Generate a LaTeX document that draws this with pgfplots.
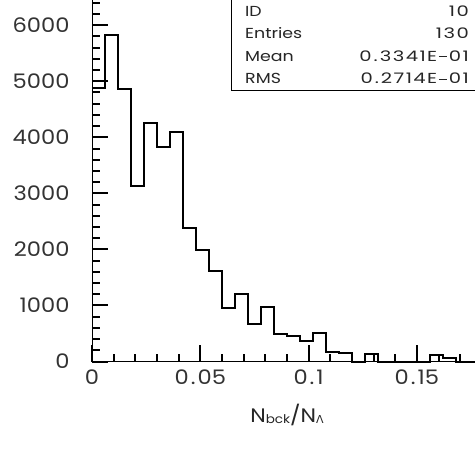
\documentclass[border=0pt]{standalone}
\usepackage{fontspec}
\setmainfont{Poppins}
\newfontfamily\tickfont{Poppins}[FakeStretch=1.13]
\newfontfamily\statfont{Poppins}[FakeStretch=1.2]
\newfontfamily\valfont{Poppins}[FakeStretch=1.35,LetterSpace=10]
\newfontfamily\grk{DejaVu Sans}
\newcommand\dt{\kern2pt.\kern2pt}
\newcommand\mn{\kern1.5pt\rule[4.2pt]{8.5pt}{0.85pt}\kern1.5pt}
\usepackage{pgfplots}
\pgfplotsset{compat=1.18}
\begin{document}
\begin{tikzpicture}[x=1pt,y=1pt]
\path[use as bounding box] (0,0) rectangle (475,451);
\begin{axis}[
  at={(92pt,89.5pt)}, anchor=south west,
  scale only axis, width=389.9pt, height=361.5pt,
  xmin=0, xmax=0.18, ymin=0, ymax=6450,
  axis x line=bottom, axis y line=left,
  axis line style={line width=2.2pt, -},
  every outer x axis line/.style={-}, every outer y axis line/.style={-},
  tick align=inside,
  major tick length=16pt, minor tick length=8pt,
  every tick/.style={line width=2pt, black},
  xtick={0,0.05,0.1,0.15}, xticklabels={0,0\dt05,0\dt1,0\dt15},
  minor xtick={0.01,0.02,0.03,0.04,0.06,0.07,0.08,0.09,0.11,0.12,0.13,0.14,0.16,0.17},
  ytick={0,1000,2000,3000,4000,5000,6000},
  yticklabels={0,1000,2000,3000,4000,5000,6000},
  minor ytick={200,400,600,800,1200,1400,1600,1800,2200,2400,2600,2800,3200,3400,3600,3800,4200,4400,4600,4800,5200,5400,5600,5800,6200,6400},
  /pgf/number format/assume math mode=true,
  ticklabel style={font=\tickfont\fontsize{20}{20}\selectfont, color=black!80},
  xticklabel style={yshift=-4.5pt},
  yticklabel style={xshift=-19pt},
  clip=false,
]
\addplot[const plot, line width=2pt, black] coordinates {
(0.000,4875) (0.006,5830) (0.012,4862) (0.018,3125) (0.024,4260)
(0.030,3827) (0.036,4089) (0.042,2387) (0.048,1989) (0.054,1615)
(0.060,960) (0.066,1204) (0.072,669) (0.078,967) (0.084,490)
(0.090,460) (0.096,371) (0.102,514) (0.108,175) (0.114,157)
(0.120,0) (0.126,140) (0.132,0) (0.138,0) (0.144,0)
(0.150,0) (0.156,116) (0.162,68) (0.168,0) (0.174,0) (0.180,0)
};
\end{axis}
\draw[line width=0.9pt, fill=white] (231.5,360.2) rectangle (495,470);
\begin{scope}[every node/.style={inner sep=0pt, text=black!85, font=\statfont\fontsize{14.5}{14.5}\selectfont}]
\node[anchor=base west] at (245,434) {ID};
\node[anchor=base west] at (245,412) {Entries};
\node[anchor=base west] at (245,389.5) {Mean};
\node[anchor=base west] at (245,367) {RMS};
\node[anchor=base east, font=\valfont\fontsize{14.5}{14.5}\selectfont] at (469,434) {10};
\node[anchor=base east, font=\valfont\fontsize{14.5}{14.5}\selectfont] at (469,412) {130};
\node[anchor=base east, font=\valfont\fontsize{14.5}{14.5}\selectfont] at (469,389.5) {0\dt3341E\mn01};
\node[anchor=base east, font=\valfont\fontsize{14.5}{14.5}\selectfont] at (469,367) {0\dt2714E\mn01};
\end{scope}
\node[anchor=base, inner sep=0pt, text=black!85, font=\tickfont\fontsize{19.5}{19.5}\selectfont] at (287,29) {N\raisebox{-1pt}{\fontsize{12}{12}\selectfont bck}/N\raisebox{-1pt}{\fontsize{11}{11}\selectfont\grk Λ}};
\end{tikzpicture}
\end{document}
